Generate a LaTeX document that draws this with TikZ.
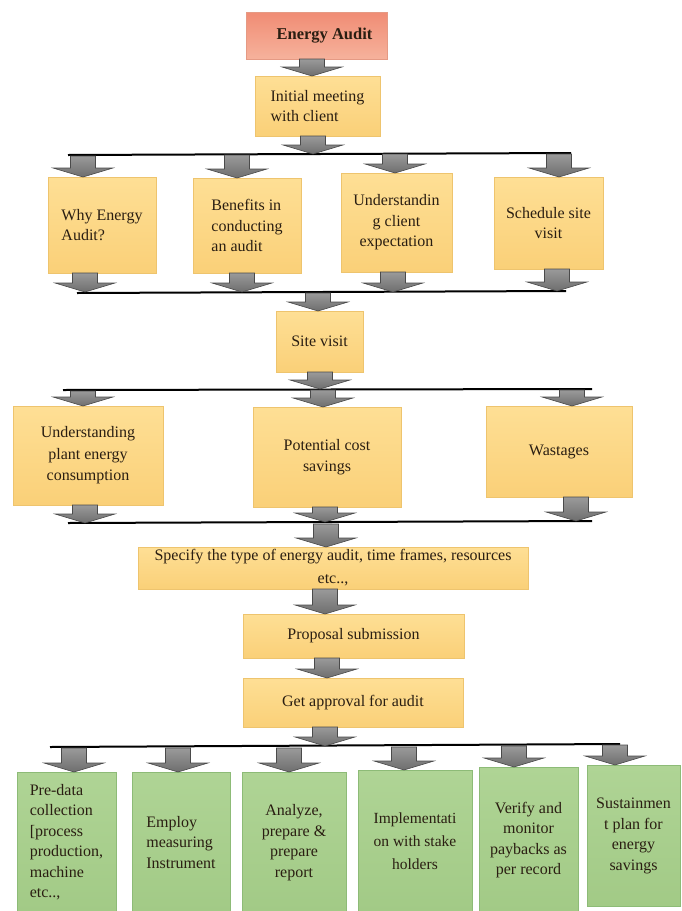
\documentclass[tikz,border=0pt]{standalone}
\usepackage{fontspec}
\setmainfont{Liberation Serif}
\definecolor{ytop}{HTML}{FEDF95}
\definecolor{ybot}{HTML}{FAD078}
\definecolor{ydraw}{HTML}{EEC46E}
\definecolor{gtop}{HTML}{AFD495}
\definecolor{gbot}{HTML}{A2CA86}
\definecolor{gdraw}{HTML}{8DBB77}
\definecolor{stop}{HTML}{F08C74}
\definecolor{sbot}{HTML}{F6B29C}
\definecolor{sdraw}{HTML}{E59A84}
\definecolor{txt}{HTML}{2A1E12}
\definecolor{atop}{HTML}{9A9A9A}
\definecolor{abot}{HTML}{6E6E6E}
\definecolor{adraw}{HTML}{4A4A4A}
\newcommand{\barrow}[3]{%
  \shade[top color=atop,bottom color=abot,draw=adraw,line width=0.6pt]
    (#1-12.5,#2) -- (#1+12.5,#2) -- (#1+12.5,#3-9) -- (#1+30,#3-9)
    -- (#1,#3) -- (#1-30,#3-9) -- (#1-12.5,#3-9) -- cycle;}
\begin{document}
\begin{tikzpicture}[x=1pt,y=-1pt,
  bx/.style 2 args={minimum width=#1pt,minimum height=#2pt},
  basebox/.style={rectangle,inner sep=2pt,line width=0.8pt,text=txt},
  ybox/.style={basebox,draw=ydraw,top color=ytop,bottom color=ybot,
     font=\fontsize{16}{20.5}\selectfont},
  gbox/.style={basebox,draw=gdraw,top color=gtop,bottom color=gbot,
     font=\fontsize{16}{20.5}\selectfont},
  sbox/.style={basebox,draw=sdraw,top color=stop,bottom color=sbot,
     font=\fontsize{16.5}{20}\selectfont\bfseries},
  bar/.style={line width=2pt,black}]
\useasboundingbox (0,0) rectangle (681,911);

% top boxes
\node[sbox,bx={141}{47}] (ea) at (316.5,35.5) {\hspace*{16pt}Energy Audit};
\node[ybox,bx={125}{60},align=left] (im) at (317.5,106) {Initial meeting\\with client};

% row 2
\node[ybox,bx={108}{96},align=left] (why) at (102,225) {Why Energy\\Audit?};
\node[ybox,bx={108}{95},align=left] (ben) at (247,225.5) {Benefits in\\conducting\\an audit};
\node[ybox,bx={111}{99},align=center] (und) at (396.5,222.5) {Understandin\\g client\\expectation};
\node[ybox,bx={109}{92},align=center] (sch) at (548.5,223) {Schedule site\\visit};

\node[ybox,bx={87}{61}] (sv) at (319.5,341.5) {Site visit};

% row 3
\node[ybox,bx={150}{99},align=center,font=\fontsize{16}{21.5}\selectfont] (upe) at (88,455.5) {Understanding\\plant energy\\consumption};
\node[ybox,bx={148}{100},align=center,font=\fontsize{16}{21.5}\selectfont] (pcs) at (327,457) {Potential cost\\savings};
\node[ybox,bx={146}{91}] (was) at (559,451.5) {Wastages};

\node[ybox,bx={390}{42},align=center,font=\fontsize{16}{23}\selectfont] (spec) at (333,568) {Specify the type of energy audit, time frames, resources\\etc..,};
\node[ybox,bx={221}{44}] (prop) at (353.5,636) {Proposal submission};
\node[ybox,bx={220}{49}] (appr) at (353,702.5) {Get approval for audit};

% row 4 (green)
\node[gbox,bx={99}{140},align=left,anchor=north] (pre) at (66.5,772) {Pre-data\\collection\\{[}process\\production,\\machine\\etc..,};
\node[gbox,bx={98}{140},align=left,anchor=north] (emp) at (181,772) {Employ\\measuring\\Instrument};
\node[gbox,bx={104}{140},align=center,anchor=north] (ana) at (294,772) {Analyze,\\prepare \&\\prepare\\report};
\node[gbox,bx={114}{142},align=center,anchor=north,font=\fontsize{15.5}{23}\selectfont] (imp) at (415,770) {Implementati\\on with stake\\holders};
\node[gbox,bx={99}{145},align=center,anchor=north] (ver) at (528.5,767) {Verify and\\monitor\\paybacks as\\per record};
\node[gbox,bx={93}{141},align=center,anchor=north] (sus) at (633.5,765) {Sustainmen\\t plan for\\energy\\savings};

% bar end points
\coordinate (b1l) at (68,155);  \coordinate (b1r) at (571,153);
\coordinate (b2l) at (77,293);  \coordinate (b2r) at (566,291);
\coordinate (b3l) at (63,390);  \coordinate (b3r) at (592,389);
\coordinate (b4l) at (68,523);  \coordinate (b4r) at (592,521);
\coordinate (b5l) at (50,747);  \coordinate (b5r) at (620,744);
\draw[bar] (b1l) -- (b1r);
\draw[bar] (b2l) -- (b2r);
\draw[bar] (b3l) -- (b3r);
\draw[bar] (b4l) -- (b4r);
\draw[bar] (b5l) -- (b5r);

% block arrows
\barrow{312}{59}{76}
\barrow{313}{136}{154}
\barrow{83}{156}{177}
\barrow{237}{155}{178}
\barrow{395}{154}{173}
\barrow{559}{154}{177}
\barrow{85}{273}{292}
\barrow{242}{273}{292}
\barrow{393}{272}{292}
\barrow{557}{269}{291}
\barrow{318}{293}{311}
\barrow{320}{372}{389}
\barrow{83}{391}{406}
\barrow{323}{390}{407}
\barrow{572}{390}{406}
\barrow{85}{505}{523}
\barrow{325}{507}{522}
\barrow{576}{497}{521}
\barrow{326}{524}{547}
\barrow{325}{589}{614}
\barrow{327}{658}{678}
\barrow{325}{727}{746}
\barrow{74}{748}{772}
\barrow{178}{748}{772}
\barrow{289}{748}{772}
\barrow{404}{747}{770}
\barrow{514}{746}{767}
\barrow{615}{745}{765}
\end{tikzpicture}
\end{document}
